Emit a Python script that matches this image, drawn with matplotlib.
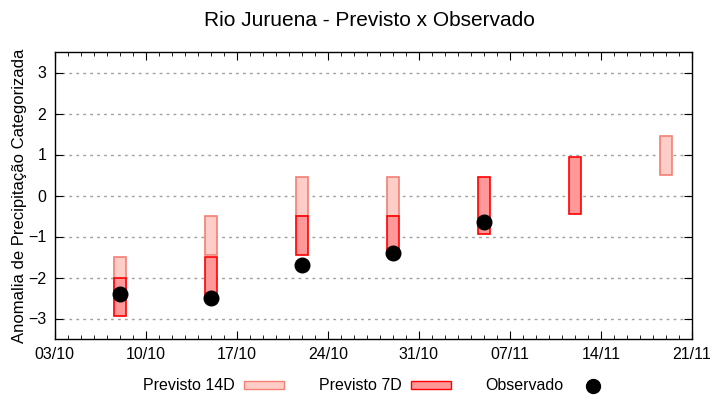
import datetime
import matplotlib
matplotlib.use("Agg")
import matplotlib.pyplot as plt
import matplotlib.dates as mdates
from matplotlib.patches import Patch
from matplotlib.lines import Line2D

plt.rcParams['font.family'] = ['Liberation Sans', 'DejaVu Sans']

# dados
datas_14d = ["2023-10-08", "2023-10-15", "2023-10-22", "2023-10-29", "2023-11-19"]
prev_14d_min = [-2.5, -1.45, -0.5, -0.5, 0.5]
prev_14d_max = [-1.5, -0.5, 0.45, 0.45, 1.45]

datas_7d = ["2023-10-08", "2023-10-15", "2023-10-22", "2023-10-29", "2023-11-05", "2023-11-12"]
prev_7d_min = [-2.95, -2.5, -1.45, -1.45, -0.95, -0.45]
prev_7d_max = [-2.0, -1.5, -0.5, -0.5, 0.45, 0.95]

datas_obs = ["2023-10-08", "2023-10-15", "2023-10-22", "2023-10-29", "2023-11-05"]
observado = [-2.4, -2.5, -1.7, -1.4, -0.65]

xticks = ["2023-10-03", "2023-10-10", "2023-10-17", "2023-10-24", "2023-10-31",
          "2023-11-07", "2023-11-14", "2023-11-21"]


def to_dt(lst):
    return [datetime.datetime.strptime(d, "%Y-%m-%d") for d in lst]


fig = plt.figure(figsize=(7.2, 4.0), dpi=100)
ax = fig.add_axes([0.076, 0.1525, 0.885, 0.7175])

cor_14d, borda_14d = "#ffcdc8", "#f47f73"
cor_7d, borda_7d = "#ff9999", "#ff0000"

ax.bar(to_dt(datas_14d), [a - b for a, b in zip(prev_14d_max, prev_14d_min)],
       bottom=prev_14d_min, width=0.95, color=cor_14d, edgecolor=borda_14d, linewidth=1.2, zorder=3)
ax.bar(to_dt(datas_7d), [a - b for a, b in zip(prev_7d_max, prev_7d_min)],
       bottom=prev_7d_min, width=0.95, color=cor_7d, edgecolor=borda_7d, linewidth=1.2, zorder=4)
ax.plot(to_dt(datas_obs), observado, "o", color="black", markersize=10.5, zorder=5)

ax.set_ylim(-3.5, 3.5)
ax.set_yticks(range(-3, 4))
ax.set_xlim(to_dt(["2023-10-03"])[0], to_dt(["2023-11-21"])[0])
ax.set_xticks(to_dt(xticks))
ax.xaxis.set_minor_locator(mdates.DayLocator())
ax.xaxis.set_major_formatter(mdates.DateFormatter("%d/%m"))

ax.grid(True, axis="y", color="#a0a0a0", linestyle=(0, (2, 3)), linewidth=1)
ax.tick_params(which="both", direction="in", top=True, right=True, labelsize=11.5, pad=6)
ax.tick_params(which="major", length=6)
ax.tick_params(which="minor", length=3)
for s in ax.spines.values():
    s.set_linewidth(1)

ax.set_ylabel("Anomalia de Precipitação Categorizada", fontsize=12)
ax.yaxis.set_label_coords(-0.044, 0.5)
fig.text(0.5125, 0.95, "Rio Juruena - Previsto x Observado", fontsize=15,
         ha="center", va="center")

handles = [
    Patch(facecolor=cor_14d, edgecolor=borda_14d),
    Patch(facecolor=cor_7d, edgecolor=borda_7d),
    Line2D([], [], marker="o", color="black", linestyle="none", markersize=10),
]
labels = ["Previsto 14D", "Previsto 7D", "Observado"]
fig.legend(handles, labels, loc="center", bbox_to_anchor=(0.525, 0.035), ncol=3,
           frameon=False, markerfirst=False, fontsize=11.5, handlelength=2.5,
           handleheight=0.45, handletextpad=0.55, columnspacing=2.2)

fig.savefig("out.png", dpi=100)
